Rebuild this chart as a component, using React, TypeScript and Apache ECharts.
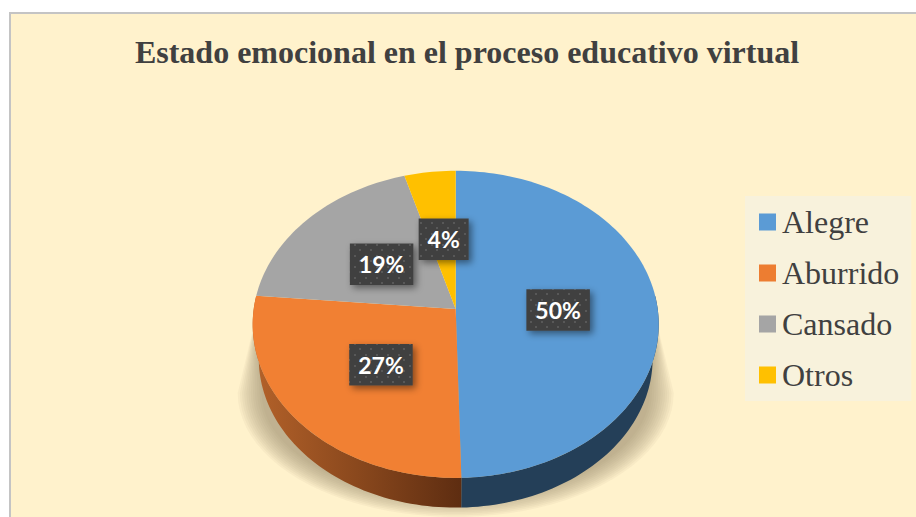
import React, { useEffect, useRef } from "react";
import * as echarts from "echarts";

const categories = ["Alegre", "Aburrido", "Cansado", "Otros"];
const values = [49.6, 26.8, 19.11, 4.49];
const legendColors = ["#5b9bd5", "#ed7d31", "#a5a5a5", "#ffc000"];
const topColors = ["#5b9bd5", "#f18033", "#a5a5a5", "#ffc000"];
const titleText = "Estado emocional en el proceso educativo virtual";

const CX = 455.7, CY = 309, A = 202, B = 152, K = 0.1, DEPTH = 34.8, SHRINK = 0.97;

function project(deg: number, r: number, scale = 1, dy = 0) {
  const t = (deg * Math.PI) / 180;
  const u = Math.sin(t) * r, v = -Math.cos(t) * r;
  const w = 1 - K * v;
  return [CX + (A * scale * u) / w, CY + dy + (B * scale * v) / w];
}

function arc(from: number, to: number, scale = 1, dy = 0) {
  const pts: number[][] = [];
  const n = Math.max(2, Math.ceil(Math.abs(to - from) / 1.5));
  for (let i = 0; i <= n; i++) pts.push(project(from + ((to - from) * i) / n, 1, scale, dy));
  return pts;
}

function dotPattern() {
  const c = document.createElement("canvas");
  c.width = 11; c.height = 11;
  const g = c.getContext("2d")!;
  g.fillStyle = "#404040"; g.fillRect(0, 0, 11, 11);
  g.fillStyle = "#595959";
  g.fillRect(2, 2, 2, 2); g.fillRect(7, 7, 2, 2);
  return { image: c, repeat: "repeat", imageWidth: 11, imageHeight: 11 } as any;
}

function shadowLayers() {
  const out: any[] = [];
  const layers = 12;
  for (let i = 0; i < layers; i++) {
    const f = i / (layers - 1);
    const rx = 218 - 24 * f, ry = 124 - 18 * f, cy = 393;
    const pts: number[][] = [[CX - 200, 318], [CX + 200, 318]];
    for (let a = 0; a <= 180; a += 4) {
      const t = (a * Math.PI) / 180;
      pts.push([CX + rx * Math.cos(t), cy + ry * Math.sin(t)]);
    }
    out.push({ type: "polygon", z2: 0, shape: { points: pts }, silent: true,
      style: { fill: "rgba(150,140,110,0.065)" } });
  }
  return out;
}

function buildSeries(pattern: any) {
  let cumulative = 0;
  return categories.map((name, idx) => {
    const startPct = cumulative;
    cumulative += values[idx];
    return {
      type: "custom", name, coordinateSystem: "none", silent: true,
      itemStyle: { color: legendColors[idx] },
      data: [[values[idx]]],
      renderItem: (_p: any, api: any) => {
        const value = api.value(0);
        const start = (startPct / 100) * 360;
        const end = ((startPct + value) / 100) * 360;
        const children: any[] = idx === 0 ? shadowLayers() : [];
        const wStart = Math.max(start, 85), wEnd = Math.min(end, 275);
        if (wEnd > wStart) {
          const top = arc(wStart, wEnd);
          const bottom = arc(wEnd, wStart, SHRINK, DEPTH);
          const fill = idx === 1
            ? new echarts.graphic.LinearGradient(0, 0, 1, 0, [
                { offset: 0, color: "#b4622a" },
                { offset: 0.5, color: "#8a481d" },
                { offset: 1, color: "#5e2d11" },
              ])
            : "#243f58";
          children.push({ type: "polygon", z2: 1, shape: { points: [...top, ...bottom] },
            style: { fill } });
        }
        children.push({ type: "polygon", z2: 2,
          shape: { points: [[CX, CY], ...arc(start, end)] },
          style: { fill: topColors[idx] } });
        const mid = project((start + end) / 2, 0.5);
        const label = `${Math.round(value)}%`;
        const w = 50 + 13.5 * (label.length - 2), h = 41.5;
        const lx = mid[0] + 1.5, ly = mid[1] + 2;
        children.push({ type: "rect", z2: 5,
          shape: { x: lx - w / 2, y: ly - h / 2, width: w, height: h },
          style: { fill: pattern, shadowBlur: 7, shadowOffsetX: 3, shadowOffsetY: 3,
            shadowColor: "rgba(0,0,0,0.45)" } });
        children.push({ type: "text", z2: 6, x: lx, y: ly,
          style: { text: label, fill: "#ffffff", align: "center", verticalAlign: "middle",
            font: 'bold 23px Lato, "Open Sans", sans-serif' } });
        return { type: "group", children };
      },
    };
  });
}

export default function App() {
  const ref = useRef<HTMLDivElement>(null);
  useEffect(() => {
    document.body.style.margin = "0";
    const chart = echarts.init(ref.current!, undefined, { renderer: "svg" });
    chart.setOption({
      animation: false,
      backgroundColor: "#ffffff",
      tooltip: { show: false },
      title: {
        text: titleText, left: 462, top: 31, textAlign: "center",
        textStyle: { fontFamily: '"Liberation Serif", serif', fontWeight: "bold",
          fontSize: 32, color: "#404040" },
      },
      legend: {
        orient: "vertical", left: 745, top: 196, padding: [10, 12, 10, 14],
        backgroundColor: "#f8f2dc", icon: "rect", itemWidth: 17, itemHeight: 17, itemGap: 19,
        selectedMode: false, data: categories,
        textStyle: { fontFamily: '"Liberation Serif", serif', fontSize: 32, color: "#404040",
          lineHeight: 32, padding: [0, 0, 0, 1] },
      },
      graphic: [{
        type: "rect", z: -10, silent: true,
        shape: { x: 10, y: 13, width: 960, height: 600 },
        style: { fill: "#fff2cc", stroke: "#c4c4c4", lineWidth: 2 },
      }],
      series: buildSeries(dotPattern()),
    });
    return () => chart.dispose();
  }, []);
  return <div ref={ref} style={{ width: 916, height: 517 }} />;
}
